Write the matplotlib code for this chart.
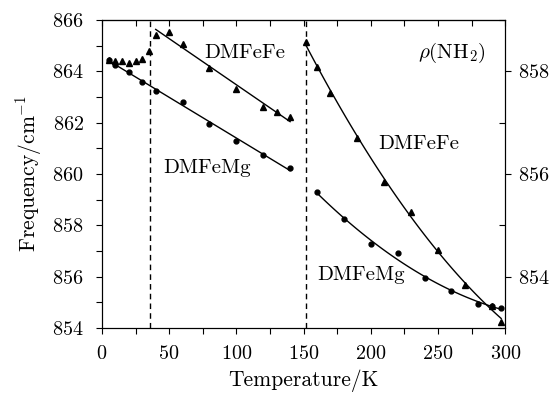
import matplotlib
matplotlib.use("Agg")
import matplotlib.pyplot as plt
import numpy as np
from matplotlib.ticker import MultipleLocator

plt.rcParams['font.family'] = 'serif'
plt.rcParams['font.serif'] = ['cmr10']
plt.rcParams['mathtext.fontset'] = 'cm'
plt.rcParams['axes.formatter.use_mathtext'] = True

# DMFeFe below 150 K (left axis)
fefe_low_T = [5, 10, 15, 20, 25, 30, 35]
fefe_low_f = [864.44, 864.41, 864.41, 864.31, 864.41, 864.48, 864.77]
fefe_mid_T = [40, 50, 60, 80, 100, 120, 130, 140]
fefe_mid_f = [865.42, 865.51, 865.08, 864.13, 863.29, 862.61, 862.41, 862.22]

# DMFeMg below 150 K (left axis)
femg_low_T = [5, 10, 20, 30, 40, 60, 80, 100, 120, 140]
femg_low_f = [864.44, 864.24, 863.99, 863.60, 863.23, 862.80, 861.96, 861.29, 860.72, 860.25]

# above 150 K (right axis)
fefe_high_T = [152, 160, 170, 190, 210, 230, 250, 270, 290, 297]
fefe_high_f = [858.56, 858.09, 857.58, 856.70, 855.84, 855.26, 854.52, 853.83, 853.43, 853.12]
femg_high_T = [160, 180, 200, 220, 240, 260, 280, 290, 297]
femg_high_f = [855.65, 855.12, 854.63, 854.46, 853.97, 853.73, 853.47, 853.43, 853.38]

transitions = [35.5, 152]

fig = plt.figure(figsize=(5.57, 3.94), dpi=100)
ax = fig.add_axes([0.183, 0.1675, 0.724, 0.782])
ax2 = ax.twinx()

ms_tri = 4
ms_dot = 3.5
fs_tick = 14.5
fs_lab = 15.5
fs_txt = 15

# left side
ax.plot(fefe_low_T, fefe_low_f, '^', color='black', ms=ms_tri)
ax.plot(fefe_mid_T, fefe_mid_f, '^', color='black', ms=ms_tri)
ax.plot(femg_low_T, femg_low_f, 'o', color='black', ms=ms_dot)

p = np.polyfit(fefe_mid_T, fefe_mid_f, 1)
t = np.linspace(fefe_mid_T[0], fefe_mid_T[-1], 50)
ax.plot(t, np.polyval(p, t), color='black', lw=1)

p = np.polyfit(femg_low_T, femg_low_f, 1)
t = np.linspace(femg_low_T[0], femg_low_T[-1], 50)
ax.plot(t, np.polyval(p, t), color='black', lw=1)

# right side
ax2.plot(fefe_high_T, fefe_high_f, '^', color='black', ms=ms_tri)
ax2.plot(femg_high_T, femg_high_f, 'o', color='black', ms=ms_dot)

p = np.polyfit(fefe_high_T, fefe_high_f, 2)
t = np.linspace(fefe_high_T[0], fefe_high_T[-1], 100)
ax2.plot(t, np.polyval(p, t), color='black', lw=1)

p = np.polyfit(femg_high_T, femg_high_f, 2)
t = np.linspace(femg_high_T[0], femg_high_T[-1], 100)
ax2.plot(t, np.polyval(p, t), color='black', lw=1)

for x in transitions:
    ax.axvline(x, color='black', lw=1, ls=(0, (4, 3)))

ax.set_xlim(0, 300)
ax.set_ylim(854, 866)
ax2.set_ylim(853, 859)

ax.xaxis.set_major_locator(MultipleLocator(50))
ax.xaxis.set_minor_locator(MultipleLocator(25))
ax.yaxis.set_major_locator(MultipleLocator(2))
ax.yaxis.set_minor_locator(MultipleLocator(1))
ax2.yaxis.set_major_locator(MultipleLocator(2))
ax2.yaxis.set_minor_locator(MultipleLocator(1))

ax.tick_params(axis='both', which='both', direction='out', length=4, width=0.8,
               labelsize=fs_tick, top=False)
ax.tick_params(axis='y', pad=9)
ax.tick_params(axis='x', pad=8)
ax2.tick_params(axis='y', which='major', direction='out', length=4, width=0.8,
                labelsize=fs_tick, pad=5)
ax2.tick_params(axis='y', which='minor', direction='in', length=4, width=0.8)

# top ticks inward
secx = ax.secondary_xaxis('top')
secx.xaxis.set_major_locator(MultipleLocator(25))
secx.tick_params(direction='in', length=4, width=0.8, labeltop=False)

for a in (ax, ax2):
    for s in a.spines.values():
        s.set_linewidth(0.8)

ax.set_xlabel('Temperature/K', fontsize=fs_lab, labelpad=5)
ax.set_ylabel('Frequency/cm$^{-1}$', fontsize=fs_lab, labelpad=6)

ax.text(106, 864.71, 'DMFeFe', fontsize=fs_txt, ha='center', va='center')
ax.text(78, 860.23, 'DMFeMg', fontsize=fs_txt, ha='center', va='center')
ax.text(236, 861.17, 'DMFeFe', fontsize=fs_txt, ha='center', va='center')
ax.text(193, 856.07, 'DMFeMg', fontsize=fs_txt, ha='center', va='center')
ax.text(260, 864.7, r'$\rho$(NH$_2$)', fontsize=fs_txt, ha='center', va='center')

fig.savefig('out.png', dpi=100)
